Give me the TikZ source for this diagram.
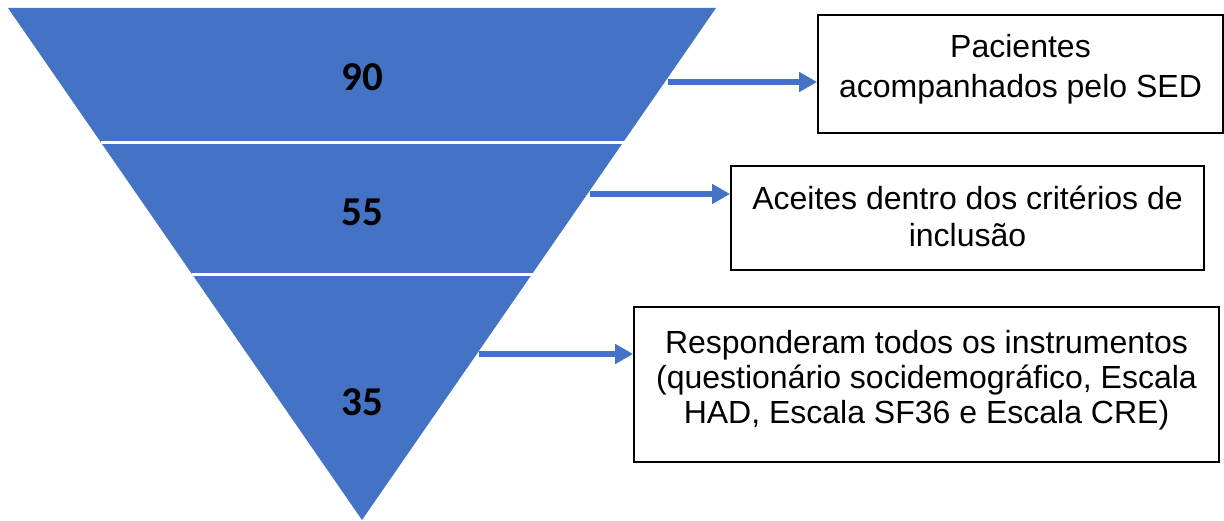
\documentclass[tikz,border=0pt]{standalone}
\usepackage{fontspec}
\setmainfont{Liberation Sans}
\newfontfamily\numfont{Carlito}
\usetikzlibrary{arrows.meta}
\definecolor{funnelblue}{HTML}{4472C4}

\begin{document}
\begin{tikzpicture}[x=1pt,y=-1pt,
  infobox/.style={draw=black, line width=1.8pt, fill=white, inner sep=0pt},
  infotext/.style={align=center, inner sep=0pt, text=black},
  count/.style={font=\numfont\bfseries\fontsize{41}{45}\selectfont, text=black, inner sep=0pt},
  flow/.style={draw=funnelblue, line width=5.5pt, -{Triangle[length=18pt,width=19pt]}},
  divider/.style={draw=white, line width=3pt}]
\useasboundingbox (0,0) rectangle (1224,521);

% funnel
\fill[funnelblue] (8,8) -- (716,8) -- (362,520) -- cycle;
\draw[divider] (100.5,143) -- (623.5,143);
\draw[divider] (191.5,275) -- (532.5,275);

% counts
\node[count] (n90) at (362,77) {90};
\node[count] (n55) at (362,212) {55};
\node[count] (n35) at (362,402) {35};

% boxes
\node[infobox, minimum width=405pt, minimum height=118pt] (b1) at (1020.5,74) {};
\node[infobox, minimum width=473pt, minimum height=104pt] (b2) at (967.5,218) {};
\node[infobox, minimum width=585pt, minimum height=155pt] (b3) at (926.5,384.5) {};

\node[infotext, font=\fontsize{32}{40}\selectfont] (t1) at (1020.5,69)
  {Pacientes\\acompanhados pelo SED};
\node[infotext, font=\fontsize{32}{37}\selectfont] (t2) at (967.5,216)
  {Aceites dentro dos critérios de\\inclusão};
\node[infotext, font=\fontsize{32}{35}\selectfont] (t3) at (926.5,380)
  {Responderam todos os instrumentos\\(questionário socidemográfico, Escala\\HAD, Escala SF36 e Escala CRE)};

% arrows from the funnel edge
\coordinate (s1) at (668,82);
\coordinate (s2) at (590,194);
\coordinate (s3) at (479,354);
\draw[flow] (s1) -- (s1 -| b1.west);
\draw[flow] (s2) -- (s2 -| b2.west);
\draw[flow] (s3) -- (s3 -| b3.west);
\end{tikzpicture}
\end{document}
